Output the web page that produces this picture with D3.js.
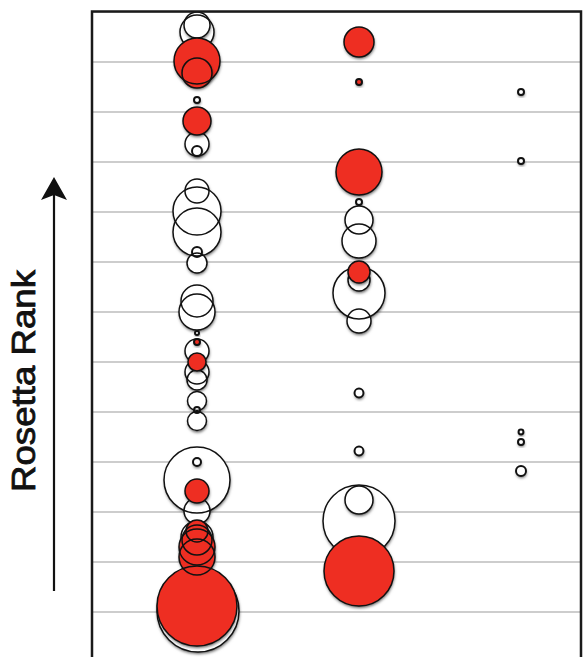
<!DOCTYPE html>
<html>
<head>
<meta charset="utf-8">
<script src="https://cdn.jsdelivr.net/npm/d3@7"></script>
<style>
  body { margin: 0; background: #fff; }
  .grid line { stroke: #bdbdbd; stroke-width: 1.5; }
  .grid path { display: none; }
</style>
</head>
<body>
<div id="chart-area"></div>
<script>
// circles per column: rank (grid units), size (area-ish), red = 1 for filled
var colA_rank = [11.59, 11.73, 11.01, 10.77, 10.23, 9.35, 9.21, 9.81, 8.41, 8.01, 7.59, 7.19, 6.97,
                 6.21, 5.99, 5.57, 5.21, 4.79, 4.63, 5.39, 4.99, 4.21, 4.03, 3.81,
                 2.63, 2.99, 2.01, 1.49, 2.41, 1.61, 1.43, 1.29, 1.09, 0.01, 0.11];
var colA_size = [289, 169, 529, 225, 9, 144, 25, 196, 144, 576, 576, 25, 100,
                 256, 324, 4, 144, 144, 100, 9, 81, 90, 9, 90,
                 1089, 16, 169, 256, 144, 121, 225, 324, 324, 1681, 1600];
var colA_red  = [0, 0, 1, 1, 0, 0, 0, 1, 0, 0, 0, 0, 0,
                 0, 0, 0, 0, 0, 0, 1, 1, 0, 0, 0,
                 0, 0, 0, 0, 1, 1, 1, 1, 1, 0, 1];

var colB_rank = [11.39, 10.59, 8.79, 8.19, 7.83, 7.41, 6.37, 6.63, 6.79, 5.81, 4.37, 3.21, 1.81, 2.23, 0.81];
var colB_size = [225, 9, 529, 9, 196, 289, 676, 121, 121, 144, 20, 20, 1296, 196, 1225];
var colB_red  = [1, 1, 1, 0, 0, 0, 0, 0, 1, 0, 0, 0, 0, 0, 1];

var colC_rank = [10.39, 9.01, 3.59, 3.39, 2.81];
var colC_size = [9, 9, 6, 9, 25];
var colC_red  = [0, 0, 0, 0, 0];

var yLabelText = "Rosetta Rank";
var rankTicks = d3.range(0, 13);

var W = 584, H = 657;
var frame = { left: 92, right: 581, top: 11.5, bottom: 668 };

var svg = d3.select("#chart-area")
    .append("svg")
        .attr("width", W)
        .attr("height", H);

var defs = svg.append("defs");
var shadow = defs.append("filter")
    .attr("id", "shadow")
    .attr("x", "-40%").attr("y", "-40%")
    .attr("width", "180%").attr("height", "190%");
shadow.append("feDropShadow")
    .attr("dx", 0.5)
    .attr("dy", 2)
    .attr("stdDeviation", 1.6)
    .attr("flood-color", "#000")
    .attr("flood-opacity", 0.62);

// Scales
var x = d3.scaleLinear().domain([0, 2]).range([197, 521]);
var y = d3.scaleLinear().domain([0, 12]).range([611.5, 11.5]);
var r = d3.scaleSqrt().domain([0, 1681]).range([0, 41]);

// grid lines
svg.append("g")
    .attr("class", "grid")
    .attr("transform", "translate(" + frame.left + ",0)")
    .call(d3.axisLeft(y)
        .tickValues(rankTicks)
        .tickSize(-(frame.right - frame.left))
        .tickFormat(""));

// build circle list
var circles = [];
function addCol(ci, ranks, sizes, reds) {
    ranks.forEach(function(d, i) {
        circles.push({ col: ci, rank: d, size: sizes[i], red: reds[i] });
    });
}
addCol(0, colA_rank, colA_size, colA_red);
addCol(1, colB_rank, colB_size, colB_red);
addCol(2, colC_rank, colC_size, colC_red);

var whites = circles.filter(function(d) { return !d.red; }),
    reds = circles.filter(function(d) { return d.red; });

// fills first, then outlines, so overlapping rings stay visible
function drawLayer(data, fill) {
    var g = svg.append("g");
    g.selectAll("circle.fill")
        .data(data)
        .enter()
        .append("circle")
            .attr("class", "fill")
            .attr("cx", function(d) { return x(d.col) + (d.size == 1681 ? 1 : 0); })
            .attr("cy", function(d) { return y(d.rank); })
            .attr("r", function(d) { return r(d.size); })
            .attr("fill", fill)
            .attr("filter", "url(#shadow)");
    g.selectAll("circle.ring")
        .data(data)
        .enter()
        .append("circle")
            .attr("class", "ring")
            .attr("cx", function(d) { return x(d.col) + (d.size == 1681 ? 1 : 0); })
            .attr("cy", function(d) { return y(d.rank); })
            .attr("r", function(d) { return r(d.size); })
            .attr("fill", "none")
            .attr("stroke", "#111")
            .attr("stroke-width", function(d) { return r(d.size) < 6 ? 2 : 1.5; });
}
drawLayer(whites, "#fff");
drawLayer(reds, "#ee2e24");

// frame
svg.append("path")
    .attr("d", "M" + frame.left + "," + frame.bottom + "V" + frame.top +
        "H" + frame.right + "V" + frame.bottom)
    .attr("fill", "none")
    .attr("stroke", "#1a1a1a")
    .attr("stroke-width", 2.5);

// y label + arrow
svg.append("text")
    .attr("transform", "translate(35,381) rotate(-90)")
    .attr("text-anchor", "middle")
    .attr("font-family", "'Liberation Sans', Arial, sans-serif")
    .attr("font-size", "33px")
    .attr("fill", "#111")
    .attr("stroke", "#111")
    .attr("stroke-width", 0.8)
    .attr("textLength", 222)
    .attr("lengthAdjust", "spacingAndGlyphs")
    .text(yLabelText);

svg.append("line")
    .attr("x1", 54).attr("x2", 54)
    .attr("y1", 591).attr("y2", 195)
    .attr("stroke", "#111")
    .attr("stroke-width", 2.2);
svg.append("path")
    .attr("d", "M54,177 L67,200 L54,195 L41,200 Z")
    .attr("fill", "#111");
</script>
</body>
</html>
